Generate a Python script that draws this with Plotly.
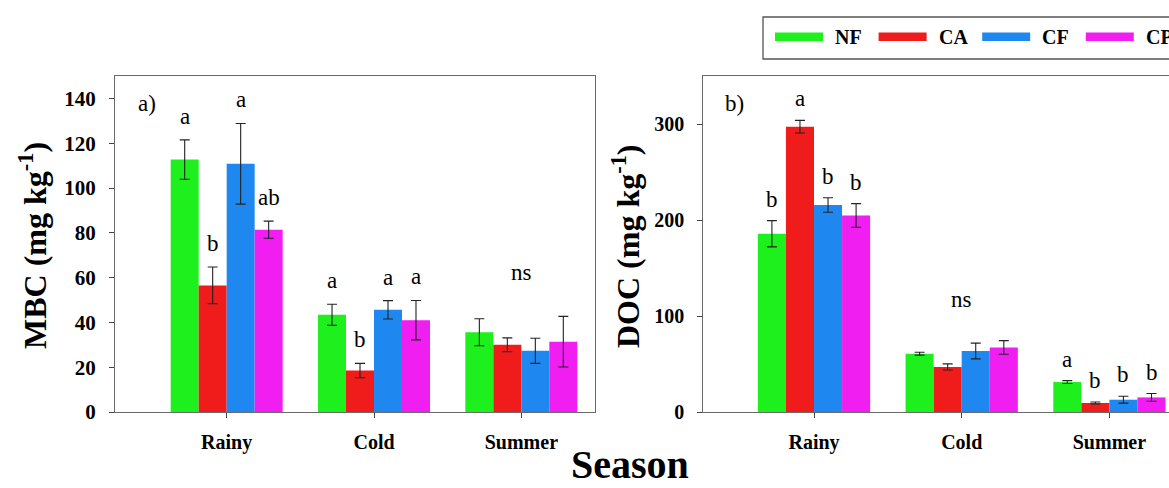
import plotly.graph_objects as go

W, H = 1169, 488

seasons = ["Rainy", "Cold", "Summer"]
treatments = ["NF", "CA", "CF", "CP"]
colors = ["#1ef01e", "#f01c1c", "#1e88f0", "#f01ef0"]

# MBC (mg kg-1): one list per treatment, values per season
mbc_NF = [112.7, 43.4, 35.6]
mbc_CA = [56.5, 18.5, 30.0]
mbc_CF = [110.8, 45.6, 27.3]
mbc_CP = [81.4, 41.0, 31.4]
mbc_err_NF = [8.8, 4.7, 6.0]
mbc_err_CA = [8.2, 3.2, 3.1]
mbc_err_CF = [18.0, 4.1, 5.6]
mbc_err_CP = [3.8, 8.8, 11.3]

# DOC (mg kg-1)
doc_NF = [185.7, 60.7, 31.2]
doc_CA = [297.2, 46.9, 9.4]
doc_CF = [215.6, 63.5, 12.8]
doc_CP = [204.8, 67.3, 15.2]
doc_err_NF = [13.7, 1.5, 1.5]
doc_err_CA = [6.6, 3.2, 1.0]
doc_err_CF = [7.6, 8.2, 3.6]
doc_err_CP = [12.3, 7.1, 4.0]

# significance letters (per season: list per treatment, or a single group label)
mbc_letters = [["a", "b", "a", "ab"], ["a", "b", "a", "a"], "ns"]
doc_letters = [["b", "a", "b", "b"], "ns", ["a", "b", "b", "b"]]

mbc_vals = [mbc_NF, mbc_CA, mbc_CF, mbc_CP]
mbc_errs = [mbc_err_NF, mbc_err_CA, mbc_err_CF, mbc_err_CP]
doc_vals = [doc_NF, doc_CA, doc_CF, doc_CP]
doc_errs = [doc_err_NF, doc_err_CA, doc_err_CF, doc_err_CP]

FONT = "Liberation Serif"
xpos = [1, 2, 3]
BARW = 0.19

fig = go.Figure()

for panel, (vals, errs, xa, ya) in enumerate([(mbc_vals, mbc_errs, "x", "y"),
                                               (doc_vals, doc_errs, "x2", "y2")]):
    for i, t in enumerate(treatments):
        fig.add_trace(go.Bar(
            x=xpos, y=vals[i], name=t, xaxis=xa, yaxis=ya,
            marker=dict(color=colors[i], line=dict(width=0)),
            error_y=dict(type="data", array=errs[i], color="#222222",
                         thickness=1.1, width=5),
            showlegend=False, legendgroup=t,
        ))

annotations = []
shapes = []

def add_letters(vals, errs, letters, xref, yref, shift):
    for s in range(3):
        lab = letters[s]
        tops = [vals[i][s] + errs[i][s] for i in range(4)]
        if isinstance(lab, str):
            annotations.append(dict(x=xpos[s], y=max(tops), xref=xref, yref=yref,
                                    text=lab, showarrow=False, yanchor="bottom",
                                    yshift=shift + 20,
                                    font=dict(family=FONT, size=23, color="black")))
        else:
            for i in range(4):
                annotations.append(dict(x=xpos[s] + (i - 1.5) * BARW, y=tops[i],
                                        xref=xref, yref=yref, text=lab[i],
                                        showarrow=False, yanchor="bottom", yshift=shift,
                                        font=dict(family=FONT, size=23, color="black")))

add_letters(mbc_vals, mbc_errs, mbc_letters, "x", "y", 9)
add_letters(doc_vals, doc_errs, doc_letters, "x2", "y2", 7)

def px(xp, yp):
    return xp / W, (H - yp) / H

for txt, (xp, yp) in [("a)", (147, 103)), ("b)", (734, 103))]:
    x, y = px(xp, yp)
    annotations.append(dict(x=x, y=y, xref="paper", yref="paper", text=txt,
                            showarrow=False, xanchor="center", yanchor="middle",
                            font=dict(family=FONT, size=23, color="black")))

for txt, xp in [("MBC (mg kg<sup>-1</sup>)", 33), ("DOC (mg kg<sup>-1</sup>)", 626)]:
    x, y = px(xp, 246)
    annotations.append(dict(x=x, y=y, xref="paper", yref="paper", text=txt,
                            showarrow=False, textangle=-90, xanchor="center",
                            yanchor="middle",
                            font=dict(family=FONT, size=32, color="black", weight="bold")))

x, y = px(630, 464)
annotations.append(dict(x=x, y=y, xref="paper", yref="paper", text="Season",
                        showarrow=False, xanchor="center", yanchor="middle",
                        font=dict(family=FONT, size=40, color="black", weight="bold")))

# legend box (runs past the right edge, as in the reference)
bx0, by0 = px(763, 59)
bx1, by1 = px(1185, 17)
shapes.append(dict(type="rect", xref="paper", yref="paper", x0=bx0, y0=by0,
                   x1=bx1, y1=by1, line=dict(color="#555555", width=1.3),
                   fillcolor="white", layer="below"))
for i, t in enumerate(treatments):
    sx = 775 + i * 103.6
    x0, y0 = px(sx, 41)
    x1, y1 = px(sx + 48, 32.5)
    shapes.append(dict(type="rect", xref="paper", yref="paper", x0=x0, y0=y0,
                       x1=x1, y1=y1, line=dict(width=0), fillcolor=colors[i]))
    tx, ty = px(sx + 58, 37)
    annotations.append(dict(x=tx, y=ty, xref="paper", yref="paper", text=t,
                            showarrow=False, xanchor="left", yanchor="middle",
                            font=dict(family=FONT, size=20, color="black", weight="bold")))

LINE = "#6a6a6a"
ydom = [(H - 412) / H, (H - 76) / H]

common_x = dict(tickvals=xpos, ticktext=seasons, ticks="outside", ticklen=5,
                tickcolor="#444", showline=True, linecolor=LINE, linewidth=1.2,
                mirror=True, showgrid=False, zeroline=False,
                tickfont=dict(family=FONT, size=20, color="black", weight="bold"),
                ticklabelstandoff=7, automargin=False)
common_y = dict(ticks="outside", ticklen=5, tickcolor="#444", showline=True,
                linecolor=LINE, linewidth=1.2, showgrid=False, zeroline=False,
                ticklabelstandoff=9, automargin=False)

fig.update_layout(
    width=W, height=H,
    margin=dict(l=0, r=0, t=0, b=0, autoexpand=False),
    paper_bgcolor="white", plot_bgcolor="white",
    barmode="group", bargap=0.24, bargroupgap=0,
    xaxis=dict(domain=[115 / W, 595 / W], range=[0.242, 3.5], anchor="y", **common_x),
    yaxis=dict(domain=ydom, range=[0, 150], tickvals=[0, 20, 40, 60, 80, 100, 120, 140],
               mirror=True, anchor="x",
               tickfont=dict(family=FONT, size=21, color="black", weight="bold"),
               **common_y),
    xaxis2=dict(domain=[703.3 / W, 1.0], range=[0.2505, 3.4035], anchor="y2", **common_x),
    yaxis2=dict(domain=ydom, range=[0, 350], tickvals=[0, 100, 200, 300],
                mirror=False, anchor="x2",
                tickfont=dict(family=FONT, size=20, color="black", weight="bold"),
                **common_y),
    annotations=annotations,
    shapes=shapes,
    showlegend=False,
)

fig.write_html("out.html")
